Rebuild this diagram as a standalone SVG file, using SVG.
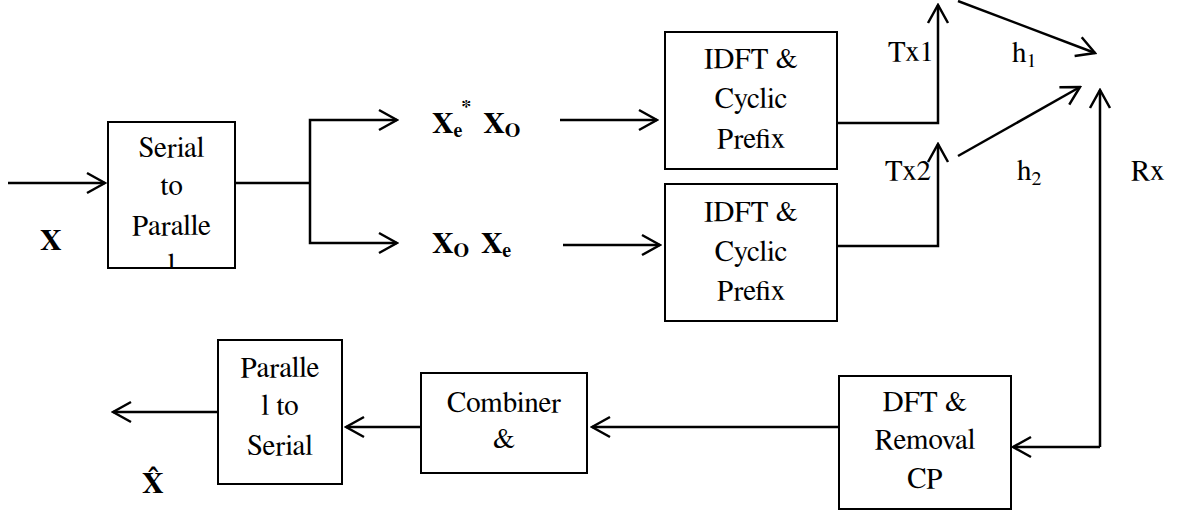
<svg xmlns="http://www.w3.org/2000/svg" width="1177" height="514" viewBox="0 0 1177 514">
  <style>
    text { font-family: "Nimbus Roman", "Nimbus Roman No9 L", FreeSerif, "Noto Serif", "DejaVu Serif", serif; fill: #000; }
    .t { font-size: 29px; }
    .c { text-anchor: middle; }
    .b { font-size: 30px; font-weight: bold; }
    .sub { font-size: 20px; }
    .box { fill: #fff; stroke: #000; stroke-width: 2; }
    .ln { fill: none; stroke: #000; stroke-width: 2.5; }
    .arr { fill: none; stroke: #000; stroke-width: 2.5; marker-end: url(#head); }
  </style>
  <defs>
    <marker id="head" markerUnits="userSpaceOnUse" viewBox="-20 -12 22 24" refX="0" refY="0" markerWidth="22" markerHeight="24" orient="auto">
      <path d="M-18,-10 L0,0 L-18,10" fill="none" stroke="#000" stroke-width="2.5"/>
    </marker>
    <clipPath id="s2p-clip">
      <rect x="108" y="122" width="127" height="146"/>
    </clipPath>
  </defs>

  <rect width="1177" height="514" fill="#fff"/>

  <!-- connectors -->
  <g id="connectors">
    <line class="arr" x1="8" y1="183" x2="105" y2="183"/>
    <polyline class="ln" points="235,183 310,183"/>
    <polyline class="arr" points="310,183 310,120 397,120"/>
    <polyline class="arr" points="310,183 310,243 397,243"/>
    <line class="arr" x1="560" y1="120" x2="657" y2="120"/>
    <line class="arr" x1="563" y1="245" x2="660" y2="245"/>
    <polyline class="arr" points="837,123 938,123 938,5"/>
    <polyline class="arr" points="837,246 938,246 938,144"/>
    <line class="arr" x1="958" y1="1" x2="1095" y2="53"/>
    <line class="arr" x1="958" y1="156" x2="1080" y2="87"/>
    <line class="arr" x1="1100" y1="447" x2="1100" y2="90"/>
    <line class="arr" x1="1100" y1="447" x2="1013" y2="447"/>
    <line class="arr" x1="838" y1="427" x2="592" y2="427"/>
    <line class="arr" x1="421" y1="427" x2="346" y2="427"/>
    <line class="arr" x1="218" y1="412" x2="113" y2="412"/>
  </g>

  <!-- signal labels -->
  <g id="labels">
    <text class="b" x="40" y="250">X</text>
    <text class="b" x="432" y="133">X<tspan class="sub" dy="4">e</tspan><tspan class="sub" dx="-1" dy="-23">*</tspan><tspan dx="12" dy="19">X</tspan><tspan class="sub" dy="4">O</tspan></text>
    <text class="b" x="432" y="253">X<tspan class="sub" dy="4">O</tspan><tspan dx="12" dy="-4">X</tspan><tspan class="sub" dy="4">e</tspan></text>
    <text class="t" x="888" y="61">Tx1</text>
    <text class="t" x="885" y="180">Tx2</text>
    <text class="t" x="1012" y="62">h<tspan class="sub" dy="5">1</tspan></text>
    <text class="t" x="1017" y="180">h<tspan class="sub" dy="5">2</tspan></text>
    <text class="t" x="1131" y="180">Rx</text>
    <text class="b" x="142" y="493">X̂</text>
  </g>

  <!-- blocks -->
  <g id="serial-to-parallel">
    <rect class="box" x="108" y="122" width="127" height="146"/>
    <g clip-path="url(#s2p-clip)">
      <text class="t c" x="171.5" y="157">Serial</text>
      <text class="t c" x="171.5" y="195">to</text>
      <text class="t c" x="171.5" y="235">Paralle</text>
      <text class="t c" x="171.5" y="274">l</text>
    </g>
  </g>

  <g id="idft-cp-1">
    <rect class="box" x="665" y="32" width="172" height="137"/>
    <text class="t c" x="751" y="68">IDFT &amp;</text>
    <text class="t c" x="751" y="108">Cyclic</text>
    <text class="t c" x="751" y="148">Prefix</text>
  </g>

  <g id="idft-cp-2">
    <rect class="box" x="665" y="184" width="172" height="137"/>
    <text class="t c" x="751" y="221">IDFT &amp;</text>
    <text class="t c" x="751" y="261">Cyclic</text>
    <text class="t c" x="751" y="300">Prefix</text>
  </g>

  <g id="dft-removal-cp">
    <rect class="box" x="839" y="376" width="172" height="133"/>
    <text class="t c" x="925" y="411">DFT &amp;</text>
    <text class="t c" x="925" y="449">Removal</text>
    <text class="t c" x="925" y="488">CP</text>
  </g>

  <g id="combiner">
    <rect class="box" x="421" y="373" width="166" height="100"/>
    <text class="t c" x="504" y="412">Combiner</text>
    <text class="t c" x="504" y="448">&amp;</text>
  </g>

  <g id="parallel-to-serial">
    <rect class="box" x="218" y="340" width="124" height="144"/>
    <text class="t c" x="280" y="377">Paralle</text>
    <text class="t c" x="280" y="415">l to</text>
    <text class="t c" x="280" y="455">Serial</text>
  </g>
</svg>
